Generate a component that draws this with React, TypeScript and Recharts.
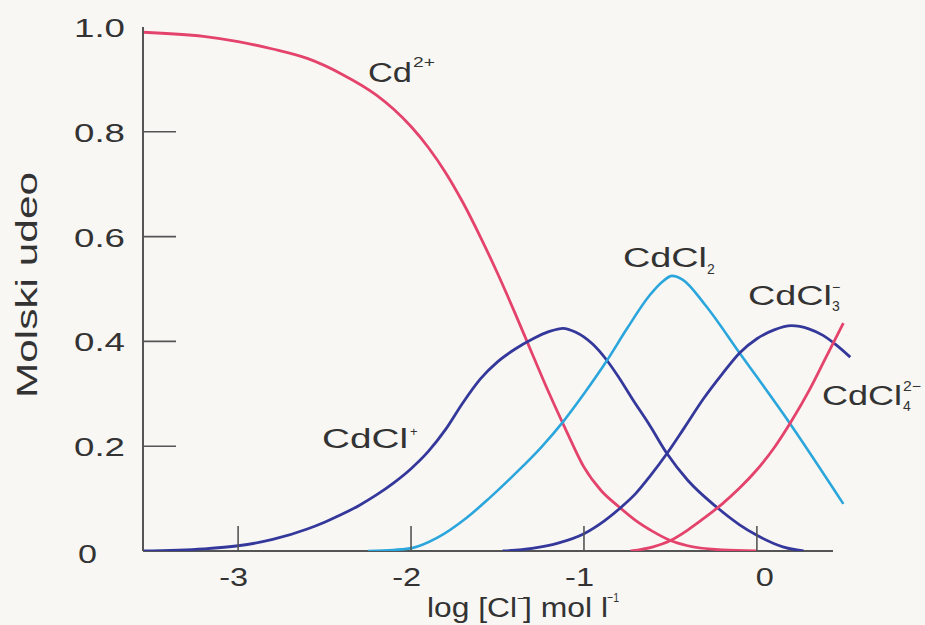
import React from "react";
import { LineChart, Line, XAxis, YAxis, ReferenceLine } from "recharts";

// log [Cl-] (x) and molar fraction (y)
const cdX = [-3.55, -3.2, -3.0, -2.8, -2.6, -2.4, -2.2, -2.1, -2.0, -1.9, -1.8, -1.7, -1.6, -1.5, -1.4, -1.3, -1.2, -1.1, -1.0, -0.9, -0.8, -0.7, -0.6, -0.5, -0.4, -0.2, 0.0];
const cdY = [0.99, 0.982, 0.972, 0.958, 0.94, 0.91, 0.87, 0.843, 0.81, 0.77, 0.722, 0.665, 0.6, 0.53, 0.455, 0.377, 0.3, 0.228, 0.16, 0.115, 0.085, 0.058, 0.037, 0.02, 0.01, 0.002, 0.0];

const cdcl1X = [-3.55, -3.2, -3.0, -2.8, -2.6, -2.5, -2.4, -2.3, -2.2, -2.1, -2.0, -1.9, -1.8, -1.7, -1.6, -1.5, -1.4, -1.3, -1.2, -1.12, -1.05, -0.95, -0.87, -0.8, -0.72, -0.62, -0.52, -0.4, -0.23, -0.1, 0.0, 0.15, 0.27];
const cdcl1Y = [0.0, 0.004, 0.01, 0.022, 0.042, 0.055, 0.07, 0.087, 0.107, 0.13, 0.157, 0.19, 0.232, 0.283, 0.328, 0.361, 0.385, 0.404, 0.419, 0.425, 0.418, 0.395, 0.365, 0.332, 0.29, 0.24, 0.186, 0.135, 0.083, 0.05, 0.03, 0.008, 0.0];

const cdcl2X = [-2.25, -2.1, -1.99, -1.85, -1.68, -1.55, -1.39, -1.25, -1.12, -1.0, -0.87, -0.75, -0.62, -0.55, -0.49, -0.43, -0.3, -0.1, 0.19, 0.5];
const cdcl2Y = [0.0, 0.002, 0.006, 0.025, 0.063, 0.1, 0.15, 0.197, 0.247, 0.3, 0.362, 0.425, 0.488, 0.513, 0.525, 0.518, 0.47, 0.378, 0.244, 0.09];

const cdcl3X = [-1.47, -1.3, -1.15, -1.0, -0.88, -0.78, -0.7, -0.62, -0.52, -0.42, -0.31, -0.2, -0.1, 0.0, 0.1, 0.2, 0.3, 0.38, 0.46, 0.54];
const cdcl3Y = [0.0, 0.005, 0.015, 0.033, 0.058, 0.085, 0.11, 0.142, 0.186, 0.235, 0.29, 0.338, 0.378, 0.405, 0.422, 0.43, 0.424, 0.412, 0.393, 0.37];

const cdcl4X = [-0.73, -0.6, -0.5, -0.4, -0.3, -0.2, -0.1, 0.0, 0.1, 0.2, 0.3, 0.4, 0.5];
const cdcl4Y = [0.0, 0.008, 0.02, 0.04, 0.064, 0.09, 0.12, 0.155, 0.197, 0.248, 0.305, 0.37, 0.435];

const xTicks = [-3, -2, -1, 0];
const yTicks = [0, 0.2, 0.4, 0.6, 0.8, 1.0];
const yTickLabels = ["0", "0.2", "0.4", "0.6", "0.8", "1.0"];

const toRows = (xs: number[], ys: number[]) => xs.map((x, i) => ({ x, y: ys[i] }));

const RED = "#e4436c";
const BLUE = "#35389b";
const CYAN = "#2ba6dc";
const TXT = "#333";
const AXIS = "#555";
const FONT = "'Liberation Sans', Arial, sans-serif";

const XTick = (props: any) => {
  const { x, y, payload } = props;
  const v = payload.value;
  const endX = v === 0 ? x + 17 : x + 10;
  return (
    <g>
      <line x1={x} y1={y} x2={x} y2={y - 25} stroke={AXIS} strokeWidth={1.6} />
      <text
        transform={`translate(${endX},${y + 35}) scale(1.3,1)`}
        textAnchor="end"
        fontSize={25}
        fontFamily={FONT}
        fill={TXT}
      >
        {String(v)}
      </text>
    </g>
  );
};

const YTick = (props: any) => {
  const { x, y, payload } = props;
  const v = payload.value;
  const label = yTickLabels[yTicks.indexOf(v)] ?? String(v);
  const isZero = v === 0;
  const showLine = v > 0 && v < 1;
  return (
    <g>
      {showLine && <line x1={x} y1={y} x2={x + 33} y2={y} stroke={AXIS} strokeWidth={1.6} />}
      <text
        x={isZero ? x - 65 : x - 69}
        y={isZero ? y + 12 : y + 10}
        textLength={isZero ? 19 : 51}
        lengthAdjust="spacingAndGlyphs"
        fontSize={25}
        fontFamily={FONT}
        fill={TXT}
      >
        {label}
      </text>
    </g>
  );
};

const T = (p: { x: number; y: number; len?: number; size: number; children: string }) => (
  <text
    x={p.x}
    y={p.y}
    fontSize={p.size}
    fontFamily={FONT}
    fill={TXT}
    {...(p.len ? { textLength: p.len, lengthAdjust: "spacingAndGlyphs" } : {})}
  >
    {p.children}
  </text>
);

const lineProps = { type: "monotone" as const, dot: false, isAnimationActive: false, dataKey: "y" };

export default function App() {
  return (
    <div style={{ position: "absolute", left: 0, top: 0, width: 925, height: 625, background: "#f8f7f4" }}>
      <LineChart width={925} height={625} margin={{ top: 27, right: 73, bottom: 44, left: 83 }}>
        <XAxis
          type="number"
          dataKey="x"
          domain={[-3.55, 0.55]}
          ticks={xTicks}
          axisLine={false}
          tickLine={false}
          tickSize={0}
          tickMargin={0}
          tick={XTick}
          height={30}
          allowDataOverflow
        />
        <YAxis
          type="number"
          domain={[0, 1]}
          ticks={yTicks}
          axisLine={{ stroke: AXIS, strokeWidth: 2 }}
          tickLine={false}
          tickSize={0}
          tickMargin={0}
          tick={YTick}
          width={60}
          allowDataOverflow
        />
        <ReferenceLine
          segment={[{ x: -3.55, y: 0 }, { x: 0.44, y: 0 }]}
          stroke={AXIS}
          strokeWidth={2}
        />
        <Line {...lineProps} data={toRows(cdX, cdY)} stroke={RED} strokeWidth={2.8} />
        <Line {...lineProps} data={toRows(cdcl1X, cdcl1Y)} stroke={BLUE} strokeWidth={2.8} />
        <Line {...lineProps} data={toRows(cdcl2X, cdcl2Y)} stroke={CYAN} strokeWidth={2.6} />
        <Line {...lineProps} data={toRows(cdcl3X, cdcl3Y)} stroke={BLUE} strokeWidth={2.8} />
        <Line {...lineProps} data={toRows(cdcl4X, cdcl4Y)} stroke={RED} strokeWidth={2.8} />
      </LineChart>
      <svg
        width={925}
        height={625}
        style={{ position: "absolute", left: 0, top: 0, pointerEvents: "none" }}
      >
        {/* axis titles */}
        <text
          transform="translate(37,398) rotate(-90)"
          fontSize={29}
          fontFamily={FONT}
          fill={TXT}
          textLength={226}
          lengthAdjust="spacingAndGlyphs"
        >
          Molski udeo
        </text>
        <T x={427} y={617} len={90} size={27}>log [Cl</T>
        <T x={517} y={603} size={13}>−</T>
        <T x={523} y={617} len={85} size={27}>] mol l</T>
        <T x={607} y={602} len={12} size={13}>−1</T>

        {/* species labels */}
        <T x={368} y={82} len={44} size={27}>Cd</T>
        <T x={413} y={67} len={22} size={14}>2+</T>

        <T x={322} y={448} len={86} size={27}>CdCl</T>
        <T x={410} y={436} size={13}>+</T>

        <T x={623} y={267} len={84} size={27}>CdCl</T>
        <T x={707} y={274} size={14}>2</T>

        <T x={748} y={305} len={84} size={27}>CdCl</T>
        <T x={832} y={292} size={14}>−</T>
        <T x={832} y={311} size={14}>3</T>

        <T x={822} y={405} len={80} size={27}>CdCl</T>
        <T x={903} y={391} len={18} size={14}>2−</T>
        <T x={903} y={411} size={14}>4</T>
      </svg>
    </div>
  );
}
